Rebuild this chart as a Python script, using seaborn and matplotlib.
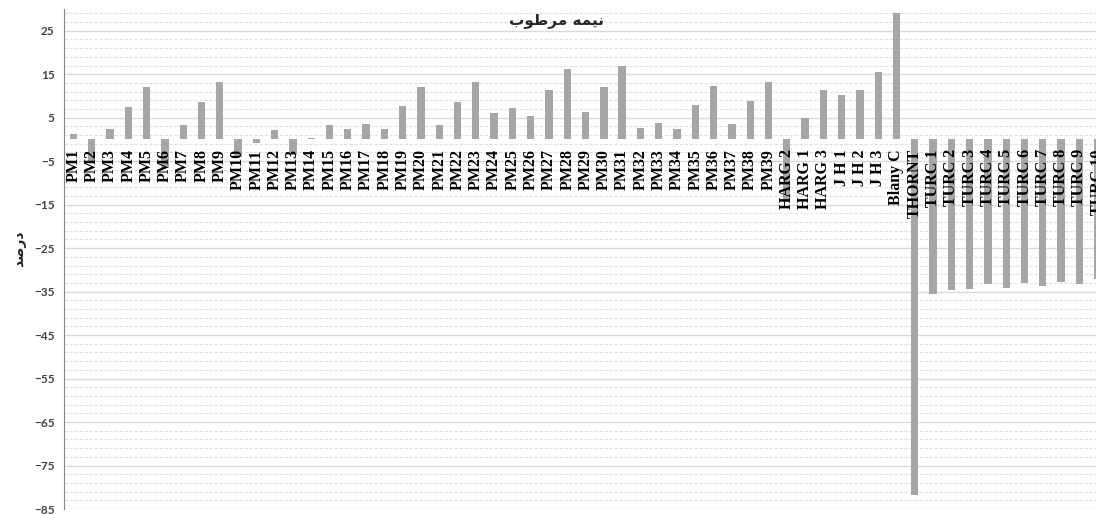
import matplotlib
matplotlib.use("Agg")
import matplotlib.pyplot as plt
import seaborn as sns
import pandas as pd
from matplotlib.ticker import MultipleLocator
from matplotlib.transforms import offset_copy

# station names along the x axis
pm_names = [f"PM{i}" for i in range(1, 40)]
other_names = ["HARG 2", "HARG 1", "HARG 3", "J H 1", "J H 2", "J H 3",
               "Blany C", "THORNT", "TURC 1", "TURC 2", "TURC 3", "TURC 4",
               "TURC 5", "TURC 6", "TURC 7", "TURC 8", "TURC 9", "TURC 10"]

# percent values
pm_values = [1.2, -5.0, 2.3, 7.5, 12.0, -6.5, 3.4, 8.7, 13.2, -4.0,
             -0.9, 2.1, -3.5, 0.3, 3.4, 2.3, 3.5, 2.3, 7.7, 12.0,
             3.3, 8.7, 13.2, 6.1, 7.3, 5.3, 11.3, 16.1, 6.3, 12.0,
             16.9, 2.6, 3.8, 2.4, 7.9, 12.4, 3.5, 8.9, 13.2]
other_values = [-14.5, 5.0, 11.4, 10.2, 11.4, 15.5, 29.0, -81.7,
                -35.5, -34.7, -34.3, -33.3, -34.1, -33.1, -33.6, -32.8, -33.2, -32.0]

# Arabic text in presentation forms, visual order (matplotlib does no shaping)
title_text = "\uFE8F\uFEEE\uFEC3\uFEAE\uFEE3 \uFEEA\uFEE4\uFEF4\uFEE7"   # نیمه مرطوب
ylabel_text = "\uFEAA\uFEBB\uFEAD\uFEA9"                                 # درصد

df = pd.DataFrame({"name": pm_names + other_names,
                   "value": pm_values + other_values})

sns.set_style("white")
fig = plt.figure(figsize=(10.96, 5.14), dpi=100)
n = len(df)
slot = 18.29 / 1096
ax = fig.add_axes([64.3 / 1096, 5 / 514, n * slot, 500 / 514])

sns.barplot(data=df, x="name", y="value", color="#a6a6a6", saturation=1,
            width=0.4, edgecolor="none", ax=ax)

ax.set_xlim(-0.5, n - 0.5)
ax.set_ylim(-85, 30)
ax.yaxis.set_major_locator(MultipleLocator(10, offset=5))
ax.yaxis.set_minor_locator(MultipleLocator(2, offset=1))
ax.set_axisbelow(True)
ax.grid(axis="y", which="major", color="#d9d9d9", lw=1.0, ls="-")
ax.grid(axis="y", which="minor", color="#e0e0e0", lw=0.8, ls=(0, (3, 1.5)))

for s in ["top", "right", "bottom"]:
    ax.spines[s].set_visible(False)
ax.spines["left"].set_color("#868686")

ax.tick_params(axis="y", which="major", length=4, color="#868686",
               labelsize=8.5, labelcolor="#404040", pad=3)
ax.tick_params(axis="y", which="minor", length=0)
for lab in ax.get_yticklabels():
    lab.set_fontweight("bold")
    lab.set_family("Lato")

# category labels sit just under the zero line, drawn over the bars
ax.set_xticks([])
ax.set_xlabel("")
trans = offset_copy(ax.transData, fig=fig, y=-7, units="points")
for i, name in enumerate(df["name"]):
    ax.text(i, 0, name, transform=trans, rotation=90, ha="center", va="top",
            family="Liberation Serif", fontweight="bold", fontsize=11.5,
            color="black", zorder=5, clip_on=False)

ax.set_ylabel(ylabel_text, family="DejaVu Sans", fontweight="bold", fontsize=10)
ax.yaxis.set_label_coords(-38.3 / (n * 18.29), 0.52)

fig.text(556 / 1096, 1 - 20 / 514, title_text, family="DejaVu Sans",
         fontweight="bold", fontsize=11, ha="center", va="center")

fig.savefig("out.png", dpi=100)
